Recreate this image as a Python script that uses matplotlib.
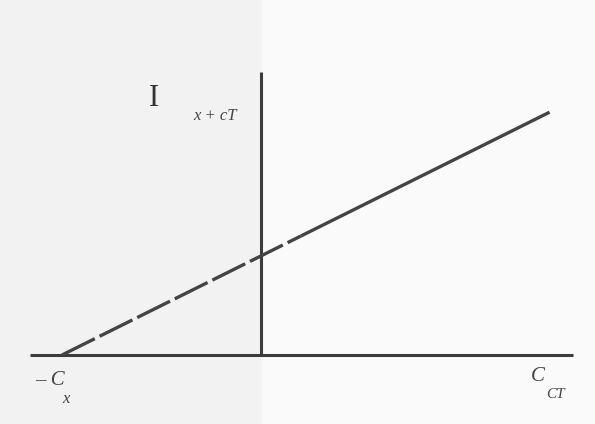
import matplotlib
matplotlib.use("Agg")
import matplotlib.pyplot as plt
import numpy as np

# line data, in units of C_x
cx = 1.0            # intercept on the negative axis is -C_x
slope = 0.498       # rise of I(x+cT) per unit C_cT
x_dash_end = 0.2    # dashed part runs from -C_x to here
x_end = 1.45        # line ends here
x_axis = [-1.16, 1.57]
y_axis_top = 1.42

fig = plt.figure(figsize=(5.95, 4.24), dpi=100)
fig.patch.set_facecolor("#fafafa")
ax = fig.add_axes([0, 0, 1, 1])
ax.set_facecolor("#fafafa")
xmin, xmax = -261 / 199, (595 - 261) / 199
ymin, ymax = -(424 - 355) / 199, 355 / 199
ax.set_xlim(xmin, xmax)
ax.set_ylim(ymin, ymax)
ax.axis("off")

# grey tone of the scan, left of the vertical axis
ax.fill_between([xmin, 0.0], ymin, ymax, color="#f2f2f2", zorder=0)

# axes
ax.plot(x_axis, [0, 0], color="#3c3c3c", lw=2.2, solid_capstyle="butt")
ax.plot([0, 0], [0, y_axis_top], color="#3c3c3c", lw=2.2, solid_capstyle="butt")

# the response line: dashed first, then solid
xd = np.array([-cx, x_dash_end])
ax.plot(xd, slope * (xd + cx), color="#444444", lw=2.4, dashes=(11, 1.6))
xs = np.array([x_dash_end, x_end])
ax.plot(xs, slope * (xs + cx), color="#444444", lw=2.4, solid_capstyle="butt")

fam = ["Liberation Serif", "DejaVu Serif"]
ax.text(-0.54, 1.29, "I", fontsize=22, family=fam, color="#333333",
        ha="center", va="center")
ax.text(-0.23, 1.2, "x + cT", fontsize=12, family=fam, style="italic",
        color="#444444", ha="center", va="center")
ax.text(-1.06, -0.13, "\u2013 C", fontsize=15, family=fam, style="italic",
        color="#444444", ha="center", va="center")
ax.text(-0.98, -0.22, "x", fontsize=12, family=fam, style="italic",
        color="#444444", ha="center", va="center")
ax.text(1.39, -0.11, "C", fontsize=15, family=fam, style="italic",
        color="#444444", ha="center", va="center")
ax.text(1.48, -0.2, "CT", fontsize=11, family=fam, style="italic",
        color="#444444", ha="center", va="center")

fig.savefig("out.png", dpi=100, facecolor=fig.get_facecolor())
